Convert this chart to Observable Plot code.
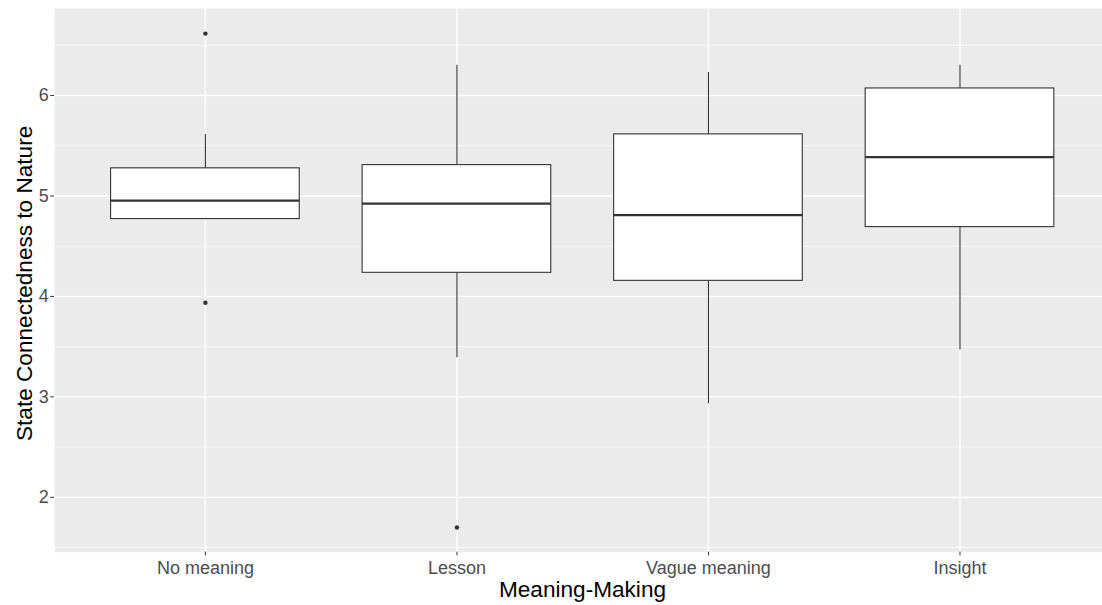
<!DOCTYPE html>
<html>
<head>
<meta charset="utf-8">
<script src="https://cdn.jsdelivr.net/npm/d3@7"></script>
<script src="https://cdn.jsdelivr.net/npm/@observablehq/plot@0.6"></script>
<style>
  html, body { margin: 0; padding: 0; background: #ffffff; overflow: hidden; }
  #chart svg { display: block; }
</style>
</head>
<body>
<div id="chart"></div>
<script>
// ---- data ----
const groups = ["No meaning", "Lesson", "Vague meaning", "Insight"];
const whiskerLow  = [4.77, 3.39, 2.93, 3.466];
const q1          = [4.77, 4.235, 4.155, 4.69];
const median      = [4.953, 4.923, 4.81, 5.387];
const q3          = [5.275, 5.307, 5.613, 6.07];
const whiskerHigh = [5.613, 6.30, 6.23, 6.30];
const outlierGroup = ["No meaning", "No meaning", "Lesson"];
const outlierValue = [6.616, 3.937, 1.70];
const yMajorTicks = [2, 3, 4, 5, 6];
const yMinorTicks = [1.5, 2.5, 3.5, 4.5, 5.5, 6.5];
const xTitle = "Meaning-Making";
const yTitle = "State Connectedness to Nature";

const boxes = groups.map((g, i) => ({
  group: g, lo: whiskerLow[i], q1: q1[i], med: median[i], q3: q3[i], hi: whiskerHigh[i]
}));
const outliers = outlierGroup.map((g, i) => ({group: g, value: outlierValue[i]}));

const dark = "#333333";
const font = "'Liberation Sans', Arial, sans-serif";

const chart = Plot.plot({
  width: 1102,
  height: 605,
  marginLeft: 54,
  marginRight: 0,
  marginTop: 8,
  marginBottom: 53.3,
  style: {fontFamily: font, background: "#ffffff"},
  x: {type: "band", domain: groups, range: [54, 1110.4], paddingInner: 0.25, paddingOuter: 0.225, round: false, label: null},
  y: {domain: [1.454, 6.866], label: null},
  marks: [
    Plot.frame({fill: "#ebebeb", stroke: null}),
    Plot.gridY(yMinorTicks, {stroke: "#ffffff", strokeOpacity: 1, strokeWidth: 0.7}),
    Plot.gridY(yMajorTicks, {stroke: "#ffffff", strokeOpacity: 1, strokeWidth: 1.4}),
    Plot.gridX(groups, {stroke: "#ffffff", strokeOpacity: 1, strokeWidth: 1.4}),
    Plot.ruleX(boxes, {x: "group", y1: "q3", y2: "hi", stroke: dark, strokeWidth: 1.1}),
    Plot.ruleX(boxes, {x: "group", y1: "lo", y2: "q1", stroke: dark, strokeWidth: 1.1}),
    Plot.barY(boxes, {x: "group", y1: "q1", y2: "q3", fill: "#ffffff", stroke: dark, strokeWidth: 1.1}),
    Plot.tickY(boxes, {x: "group", y: "med", stroke: dark, strokeWidth: 2.3}),
    Plot.dot(outliers, {x: "group", y: "value", r: 2.2, fill: dark, stroke: null}),
    Plot.axisY(yMajorTicks, {tickSize: 3.7, tickPadding: 2, stroke: dark, fill: "#4d4d4d", fontSize: 18, tickFormat: d3.format("d"), label: null}),
    Plot.axisX(groups, {tickSize: 3.7, tickPadding: 5, stroke: dark, fill: "#4d4d4d", fontSize: 18, label: null}),
    Plot.text([xTitle], {text: d => d, frameAnchor: "bottom", dx: 4, dy: 44.5, fontSize: 22.6, fill: "#000000"}),
    Plot.text([yTitle], {text: d => d, frameAnchor: "left", textAnchor: "middle", rotate: -90, dx: -30, dy: 3, fontSize: 22.6, fill: "#000000"})
  ]
});
document.getElementById("chart").appendChild(chart);
</script>
</body>
</html>
